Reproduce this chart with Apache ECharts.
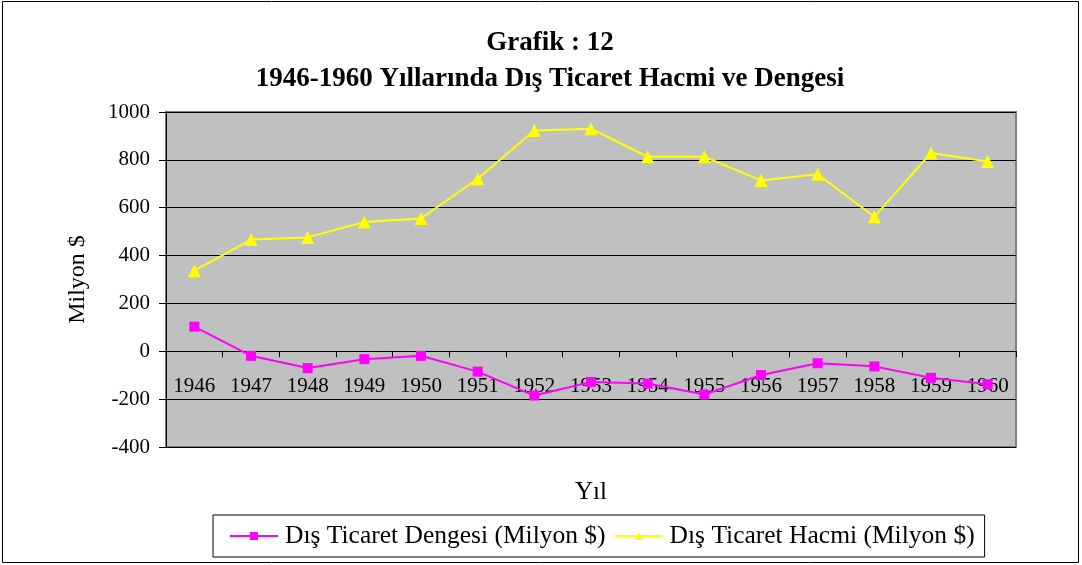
<!DOCTYPE html>
<html>
<head>
<meta charset="utf-8">
<script src="https://cdn.jsdelivr.net/npm/echarts@6/dist/echarts.min.js"></script>
<style>
  html, body { margin: 0; padding: 0; background: #fff; }
  #chart { width: 1082px; height: 565px; }
</style>
</head>
<body>
<div id="chart"></div>
<script>
const years = ['1946', '1947', '1948', '1949', '1950', '1951', '1952', '1953', '1954', '1955', '1956', '1957', '1958', '1959', '1960']
// Dış ticaret dengesi (Milyon $)
const denge = [103, -19, -70, -33, -19, -85, -185, -128, -135, -181, -99, -50, -63, -111, -138]
// Dış ticaret hacmi (Milyon $)
const hacim = [337, 467, 476, 540, 555, 721, 923, 930, 813, 813, 714, 740, 562, 829, 793]

const serif = '"Liberation Serif", "Times New Roman", serif'

const chart = echarts.init(document.getElementById('chart'))

chart.setOption({
  backgroundColor: '#fff',
  animation: false,
  textStyle: { fontFamily: serif, color: '#000' },
  title: {
    text: 'Grafik : 12\n1946-1960 Yıllarında Dış Ticaret Hacmi ve Dengesi',
    left: 545,
    top: 20,
    textAlign: 'center',
    textStyle: { fontFamily: serif, fontSize: 27, fontWeight: 'bold', color: '#000', lineHeight: 36 },
  },
  graphic: [
    {
      type: 'rect',
      shape: { x: 2.5, y: 1.5, width: 1076, height: 561 },
      style: { fill: 'none', stroke: '#000', lineWidth: 1 },
      silent: true,
    },
  ],
  legend: {
    left: 213,
    top: 515,
    padding: [8, 10, 8, 16],
    itemGap: 8,
    itemWidth: 48,
    itemHeight: 10,
    borderColor: '#000',
    borderWidth: 1,
    textStyle: { fontFamily: serif, fontSize: 25.5, color: '#000', padding: [0, 0, 0, 2] },
    data: ['Dış Ticaret Dengesi (Milyon $)', 'Dış Ticaret Hacmi (Milyon $)'],
  },
  grid: {
    left: 166,
    right: 66,
    top: 112,
    bottom: 118,
    containLabel: false,
    outerBoundsMode: 'none',
    show: true,
    backgroundColor: '#c0c0c0',
    borderColor: '#808080',
    borderWidth: 2,
  },
  xAxis: {
    type: 'category',
    data: years,
    boundaryGap: true,
    name: 'Yıl',
    nameLocation: 'middle',
    nameGap: 33,
    nameTextStyle: { fontFamily: serif, fontSize: 25, color: '#000' },
    axisLine: { onZero: true, lineStyle: { color: '#000', width: 1 } },
    axisTick: { show: true, length: 6, lineStyle: { color: '#000' } },
    axisLabel: { fontFamily: serif, fontSize: 21, color: '#000', margin: -71 },
    splitLine: { show: false },
  },
  yAxis: {
    type: 'value',
    min: -400,
    max: 1000,
    interval: 200,
    name: 'Milyon $',
    nameLocation: 'middle',
    nameGap: 76,
    nameTextStyle: { fontFamily: serif, fontSize: 24, color: '#000' },
    axisLine: { show: true, lineStyle: { color: '#000', width: 1 } },
    axisTick: { show: true, length: 7, lineStyle: { color: '#000' } },
    axisLabel: { fontFamily: serif, fontSize: 21, color: '#000', margin: 16, formatter: (v) => String(v) },
    splitLine: { show: true, lineStyle: { color: '#000', width: 1 } },
  },
  series: [
    {
      name: 'Dış Ticaret Dengesi (Milyon $)',
      type: 'line',
      data: denge,
      symbol: 'rect',
      symbolSize: 10,
      itemStyle: { color: '#ff00ff' },
      lineStyle: { color: '#ff00ff', width: 2 },
    },
    {
      name: 'Dış Ticaret Hacmi (Milyon $)',
      type: 'line',
      data: hacim,
      symbol: 'triangle',
      symbolSize: 13,
      itemStyle: { color: '#ffff00' },
      lineStyle: { color: '#ffff00', width: 2 },
    },
  ],
})
</script>
</body>
</html>
